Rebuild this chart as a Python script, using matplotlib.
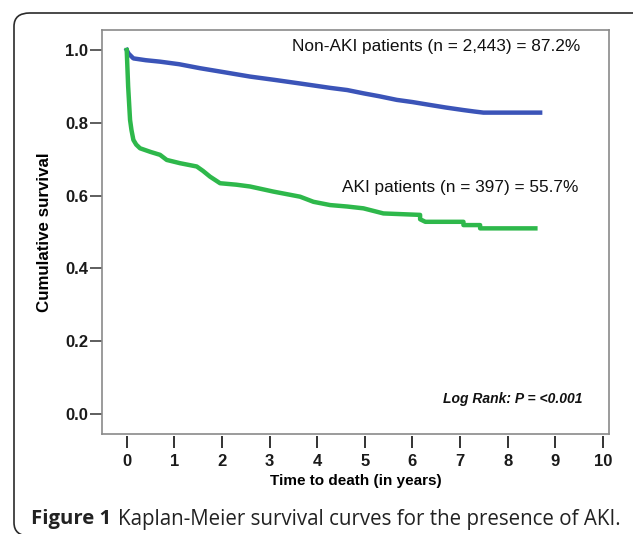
import matplotlib
matplotlib.use("Agg")
import matplotlib.pyplot as plt
from matplotlib.patches import FancyBboxPatch
from matplotlib.lines import Line2D

# Kaplan-Meier curves (time in years, cumulative survival)
t_non_aki = [0.0, 0.04, 0.14, 0.4, 0.7, 1.1, 1.54, 2.0, 2.59, 3.1, 3.64, 4.27,
             4.63, 4.97, 5.3, 5.67, 6.0, 6.37, 6.7, 7.07, 7.3, 7.49, 8.68]
s_non_aki = [1.0, 0.99, 0.977, 0.972, 0.968, 0.961, 0.95, 0.94, 0.927, 0.918, 0.908, 0.896,
             0.89, 0.881, 0.873, 0.863, 0.857, 0.849, 0.842, 0.835, 0.831, 0.828, 0.828]

t_aki = [0.0, 0.03, 0.07, 0.1, 0.14, 0.2, 0.28, 0.5, 0.7, 0.84, 1.12, 1.47, 1.6, 1.75,
         1.96, 2.3, 2.59, 3.08, 3.64, 3.92, 4.27, 4.63, 4.97, 5.39, 6.16, 6.16, 6.27,
         7.07, 7.07, 7.42, 7.42, 8.58]
s_aki = [1.0, 0.9, 0.808, 0.78, 0.753, 0.74, 0.73, 0.72, 0.712, 0.698, 0.689, 0.68, 0.668, 0.652,
         0.634, 0.63, 0.625, 0.611, 0.597, 0.583, 0.574, 0.57, 0.565, 0.551, 0.547, 0.535, 0.528,
         0.528, 0.519, 0.519, 0.51, 0.51]

x_ticks = [0, 1, 2, 3, 4, 5, 6, 7, 8, 9, 10]
y_ticks = [0.0, 0.2, 0.4, 0.6, 0.8, 1.0]

W, H = 633, 534
fig = plt.figure(figsize=(W / 100, H / 100), dpi=100)
fig.patch.set_facecolor("white")

# outer rounded frame (extends past right and bottom edges)
box = FancyBboxPatch((14 / W, 1 - 536 / H), 640 / W, 523 / H,
                     boxstyle="round,pad=0,rounding_size=0.025",
                     transform=fig.transFigure, facecolor="none",
                     edgecolor="#2b2b2b", linewidth=1.2, clip_on=False)
fig.patches.append(box)

ax = fig.add_axes([102 / W, 1 - 434 / H, (609 - 102) / W, (434 - 30) / H])
ax.set_xlim(-0.519, 10.126)
ax.set_ylim(-0.055, 1.055)

ax.plot(t_non_aki, s_non_aki, color="#3b54b8", linewidth=3.2, solid_joinstyle="round")
ax.plot(t_aki, s_aki, color="#2eb84b", linewidth=3.2, solid_joinstyle="round")

for side in ["top", "right", "left"]:
    ax.spines[side].set_color("#8a8a8a")
    ax.spines[side].set_linewidth(1.2)
ax.spines["bottom"].set_position(("outward", 1.5))
ax.spines["bottom"].set_color("none")
ax.add_line(Line2D([0, 1], [0, 0], transform=ax.transAxes, color="#8a8a8a",
                   linewidth=1.2, clip_on=False))

ax.set_xticks(x_ticks)
ax.set_yticks(y_ticks)
ax.set_yticklabels([f"{v:.1f}" for v in y_ticks])
ax.tick_params(axis="x", direction="out", length=8.6, width=1.4, color="#333333",
               pad=4.0, labelsize=12)
ax.tick_params(axis="y", direction="out", length=8.6, width=1.1, color="#333333",
               pad=1.5, labelsize=12)
for lbl in ax.get_xticklabels() + ax.get_yticklabels():
    lbl.set_fontfamily("Liberation Sans")
    lbl.set_fontweight("bold")
    lbl.set_color("#1a1a1a")

ax.set_xlabel("Time to death (in years)", fontfamily="Liberation Sans",
              fontweight="bold", fontsize=11, labelpad=4)
ax.set_ylabel("Cumulative survival", fontfamily="Liberation Sans",
              fontweight="bold", fontsize=12.2, labelpad=9)

ax.text(0.943, 0.96, "Non-AKI patients (n = 2,443) = 87.2%", transform=ax.transAxes,
        ha="right", va="center", fontsize=12.4, fontfamily="Liberation Sans", color="#111111")
ax.text(0.939, 0.61, "AKI patients (n = 397) = 55.7%", transform=ax.transAxes,
        ha="right", va="center", fontsize=12.4, fontfamily="Liberation Sans", color="#111111")
ax.text(0.947, 0.0876, "Log Rank: P = <0.001", transform=ax.transAxes,
        ha="right", va="center", fontsize=10, fontfamily="Liberation Sans",
        fontweight="bold", fontstyle="italic", color="#111111")

# caption
cap1 = fig.text(31 / W, 1 - 519 / H, "Figure 1", fontfamily="Open Sans", fontweight="bold",
                fontsize=14.6, color="#222222", ha="left", va="center")
ax.annotate("Kaplan-Meier survival curves for the presence of AKI.",
            xy=(1, 0.5), xycoords=cap1, xytext=(5, 0), textcoords="offset points",
            fontfamily="Open Sans", fontsize=14.8, color="#222222",
            ha="left", va="center", annotation_clip=False)

fig.savefig("out.png", dpi=100)
